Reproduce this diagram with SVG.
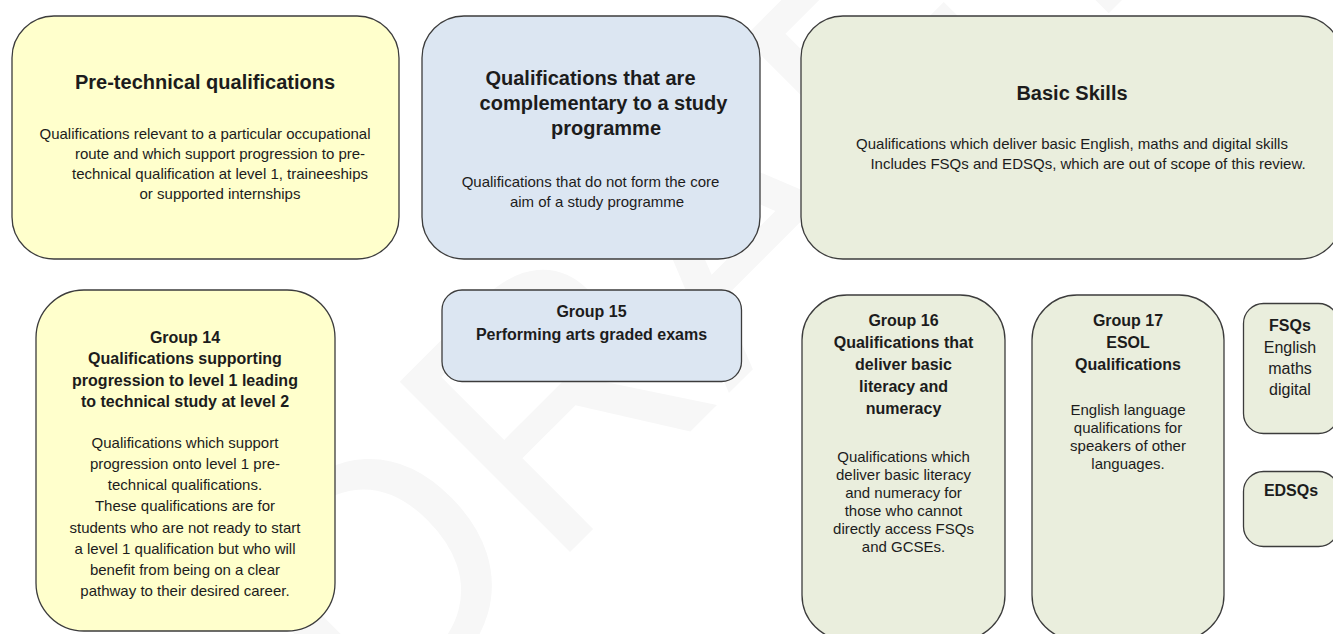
<svg xmlns="http://www.w3.org/2000/svg" width="1333" height="634" viewBox="0 0 1333 634">
<style>
rect{stroke:#3c3c3c;stroke-width:1.3}
.y{fill:#FFFFCC}
.b{fill:#DCE6F2}
.g{fill:#EAEEDD}
text{font-family:"Liberation Sans",Arial,sans-serif;fill:#1c1c1c;text-anchor:middle}
.h1{font-size:20px;font-weight:bold}
.h2{font-size:16px;font-weight:bold}
.p{font-size:15px}
.p16{font-size:16px}
.wm{font-size:350px;fill:#f7f7f7;text-anchor:start}
</style>
<rect x="0" y="0" width="1333" height="634" fill="#ffffff" style="stroke:none"/>
<text class="wm" transform="translate(371,751) rotate(-45)">DRAFT</text>

<g id="pre-technical">
<rect class="y" x="12" y="16" width="387" height="243" rx="42"/>
<text class="h1" x="205" y="89">Pre-technical qualifications</text>
<text class="p" x="205" y="139">Qualifications relevant to a particular occupational</text>
<text class="p" x="220" y="159">route and which support progression to pre-</text>
<text class="p" x="220" y="179">technical qualification at level 1, traineeships</text>
<text class="p" x="220" y="199">or supported internships</text>
</g>

<g id="complementary">
<rect class="b" x="422" y="16" width="338" height="243" rx="42"/>
<text class="h1" x="590.5" y="85">Qualifications that are</text>
<text class="h1" x="603.5" y="110">complementary to a study</text>
<text class="h1" x="606" y="135">programme</text>
<text class="p" x="590.5" y="186.5">Qualifications that do not form the core</text>
<text class="p" x="597" y="206.5">aim of a study programme</text>
</g>

<g id="basic-skills">
<rect class="g" x="801" y="16" width="541" height="243" rx="42"/>
<text class="h1" x="1072" y="100">Basic Skills</text>
<text class="p" x="1072" y="148.5">Qualifications which deliver basic English, maths and digital skills</text>
<text class="p" x="1088" y="168.5">Includes FSQs and EDSQs, which are out of scope of this review.</text>
</g>

<g id="group-14">
<rect class="y" x="36" y="290" width="299" height="341" rx="48"/>
<text class="h2" x="185" y="342.5">Group 14</text>
<text class="h2" x="185" y="364">Qualifications supporting</text>
<text class="h2" x="185" y="385.5">progression to level 1 leading</text>
<text class="h2" x="185" y="407">to technical study at level 2</text>
<text class="p" x="185" y="448">Qualifications which support</text>
<text class="p" x="185" y="469">progression onto level 1 pre-</text>
<text class="p" x="185" y="490">technical qualifications.</text>
<text class="p" x="185" y="511">These qualifications are for</text>
<text class="p" x="185" y="532.5">students who are not ready to start</text>
<text class="p" x="185" y="553.5">a level 1 qualification but who will</text>
<text class="p" x="185" y="574.5">benefit from being on a clear</text>
<text class="p" x="185" y="595.5">pathway to their desired career.</text>
</g>

<g id="group-15">
<rect class="b" x="442" y="290" width="299.5" height="91.5" rx="20"/>
<text class="h2" x="591.5" y="317">Group 15</text>
<text class="h2" x="591.5" y="340">Performing arts graded exams</text>
</g>

<g id="group-16">
<rect class="g" x="802" y="295" width="203" height="345" rx="45"/>
<text class="h2" x="903.5" y="326">Group 16</text>
<text class="h2" x="903.5" y="348">Qualifications that</text>
<text class="h2" x="903.5" y="370">deliver basic</text>
<text class="h2" x="903.5" y="392">literacy and</text>
<text class="h2" x="903.5" y="414">numeracy</text>
<text class="p" x="903.5" y="462">Qualifications which</text>
<text class="p" x="903.5" y="480">deliver basic literacy</text>
<text class="p" x="903.5" y="498">and numeracy for</text>
<text class="p" x="903.5" y="516">those who cannot</text>
<text class="p" x="903.5" y="534">directly access FSQs</text>
<text class="p" x="903.5" y="552">and GCSEs.</text>
</g>

<g id="group-17">
<rect class="g" x="1032" y="295" width="192" height="345" rx="45"/>
<text class="h2" x="1128" y="326">Group 17</text>
<text class="h2" x="1128" y="348">ESOL</text>
<text class="h2" x="1128" y="370">Qualifications</text>
<text class="p" x="1128" y="415">English language</text>
<text class="p" x="1128" y="433">qualifications for</text>
<text class="p" x="1128" y="451">speakers of other</text>
<text class="p" x="1128" y="469">languages.</text>
</g>

<g id="fsqs">
<rect class="g" x="1243.5" y="303.5" width="95" height="130" rx="20"/>
<text class="h2" x="1290" y="331">FSQs</text>
<text class="p16" x="1290" y="353">English</text>
<text class="p16" x="1290" y="374">maths</text>
<text class="p16" x="1290" y="395">digital</text>
</g>

<g id="edsqs">
<rect class="g" x="1243.5" y="471.5" width="95" height="75" rx="20"/>
<text class="h2" x="1291" y="496">EDSQs</text>
</g>

<g id="connectors"></g>
</svg>
